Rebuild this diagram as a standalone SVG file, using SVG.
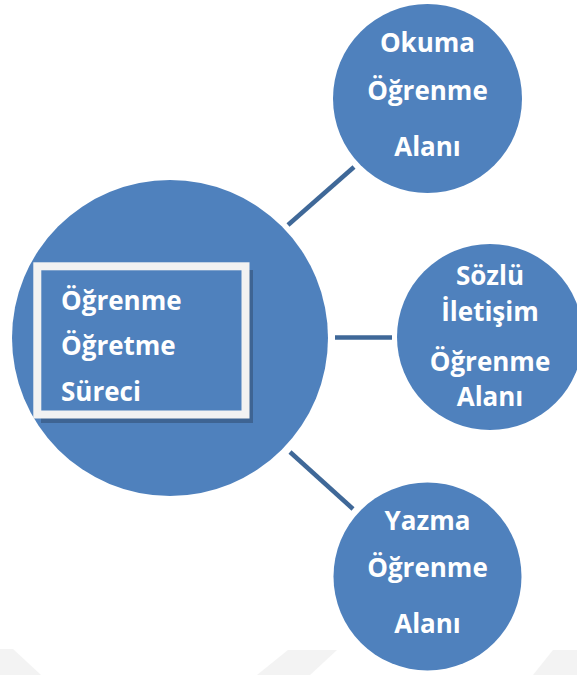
<svg xmlns="http://www.w3.org/2000/svg" width="577" height="675" viewBox="0 0 577 675">
  <defs>
    <style>
      .node { fill: #4f81bd; }
      .label { font-family: "Open Sans", "Noto Sans", "DejaVu Sans", sans-serif; font-weight: 700; font-size: 26px; fill: #ffffff; }
      .mid { text-anchor: middle; }
      .link { stroke: #3f6898; stroke-width: 4.5; fill: none; }
      .band { fill: #f3f3f3; }
    </style>
  </defs>

  <rect x="0" y="0" width="577" height="675" fill="#ffffff"/>

  <!-- faint background bands along the bottom edge -->
  <g id="background-bands">
    <polygon class="band" points="0,649 13,649 41,675 0,675"/>
    <polygon class="band" points="288,650 337,650 310,675 257,675"/>
    <polygon class="band" points="553,650 577,650 577,675 533,675"/>
  </g>

  <!-- connectors -->
  <g id="connectors">
    <line class="link" x1="288" y1="225" x2="354" y2="167"/>
    <line class="link" x1="335" y1="337.5" x2="392" y2="337.5"/>
    <line class="link" x1="290" y1="452" x2="353" y2="509"/>
  </g>

  <!-- central node -->
  <g id="node-center">
    <circle class="node" cx="170" cy="338" r="158"/>
    <rect x="41" y="270" width="212" height="153" fill="#3e6493"/>
    <rect x="37.3" y="266.3" width="208.2" height="148.2" fill="#4f81bd" stroke="#f2f2f2" stroke-width="8"/>
    <text class="label" x="61" y="310">Öğrenme</text>
    <text class="label" x="61" y="355">Öğretme</text>
    <text class="label" x="61" y="401">Süreci</text>
  </g>

  <g id="node-okuma">
    <circle class="node" cx="427.5" cy="98.5" r="94.5"/>
    <text class="label mid" x="427.5" y="52">Okuma</text>
    <text class="label mid" x="427.5" y="100">Öğrenme</text>
    <text class="label mid" x="427.5" y="156">Alanı</text>
  </g>

  <g id="node-sozlu">
    <circle class="node" cx="490" cy="337" r="93"/>
    <text class="label mid" x="490" y="285">Sözlü</text>
    <text class="label mid" x="490" y="321">İletişim</text>
    <text class="label mid" x="490" y="371">Öğrenme</text>
    <text class="label mid" x="490" y="406">Alanı</text>
  </g>

  <g id="node-yazma">
    <circle class="node" cx="427.5" cy="576.5" r="94"/>
    <text class="label mid" x="427.5" y="530">Yazma</text>
    <text class="label mid" x="427.5" y="577">Öğrenme</text>
    <text class="label mid" x="427.5" y="633">Alanı</text>
  </g>
</svg>
